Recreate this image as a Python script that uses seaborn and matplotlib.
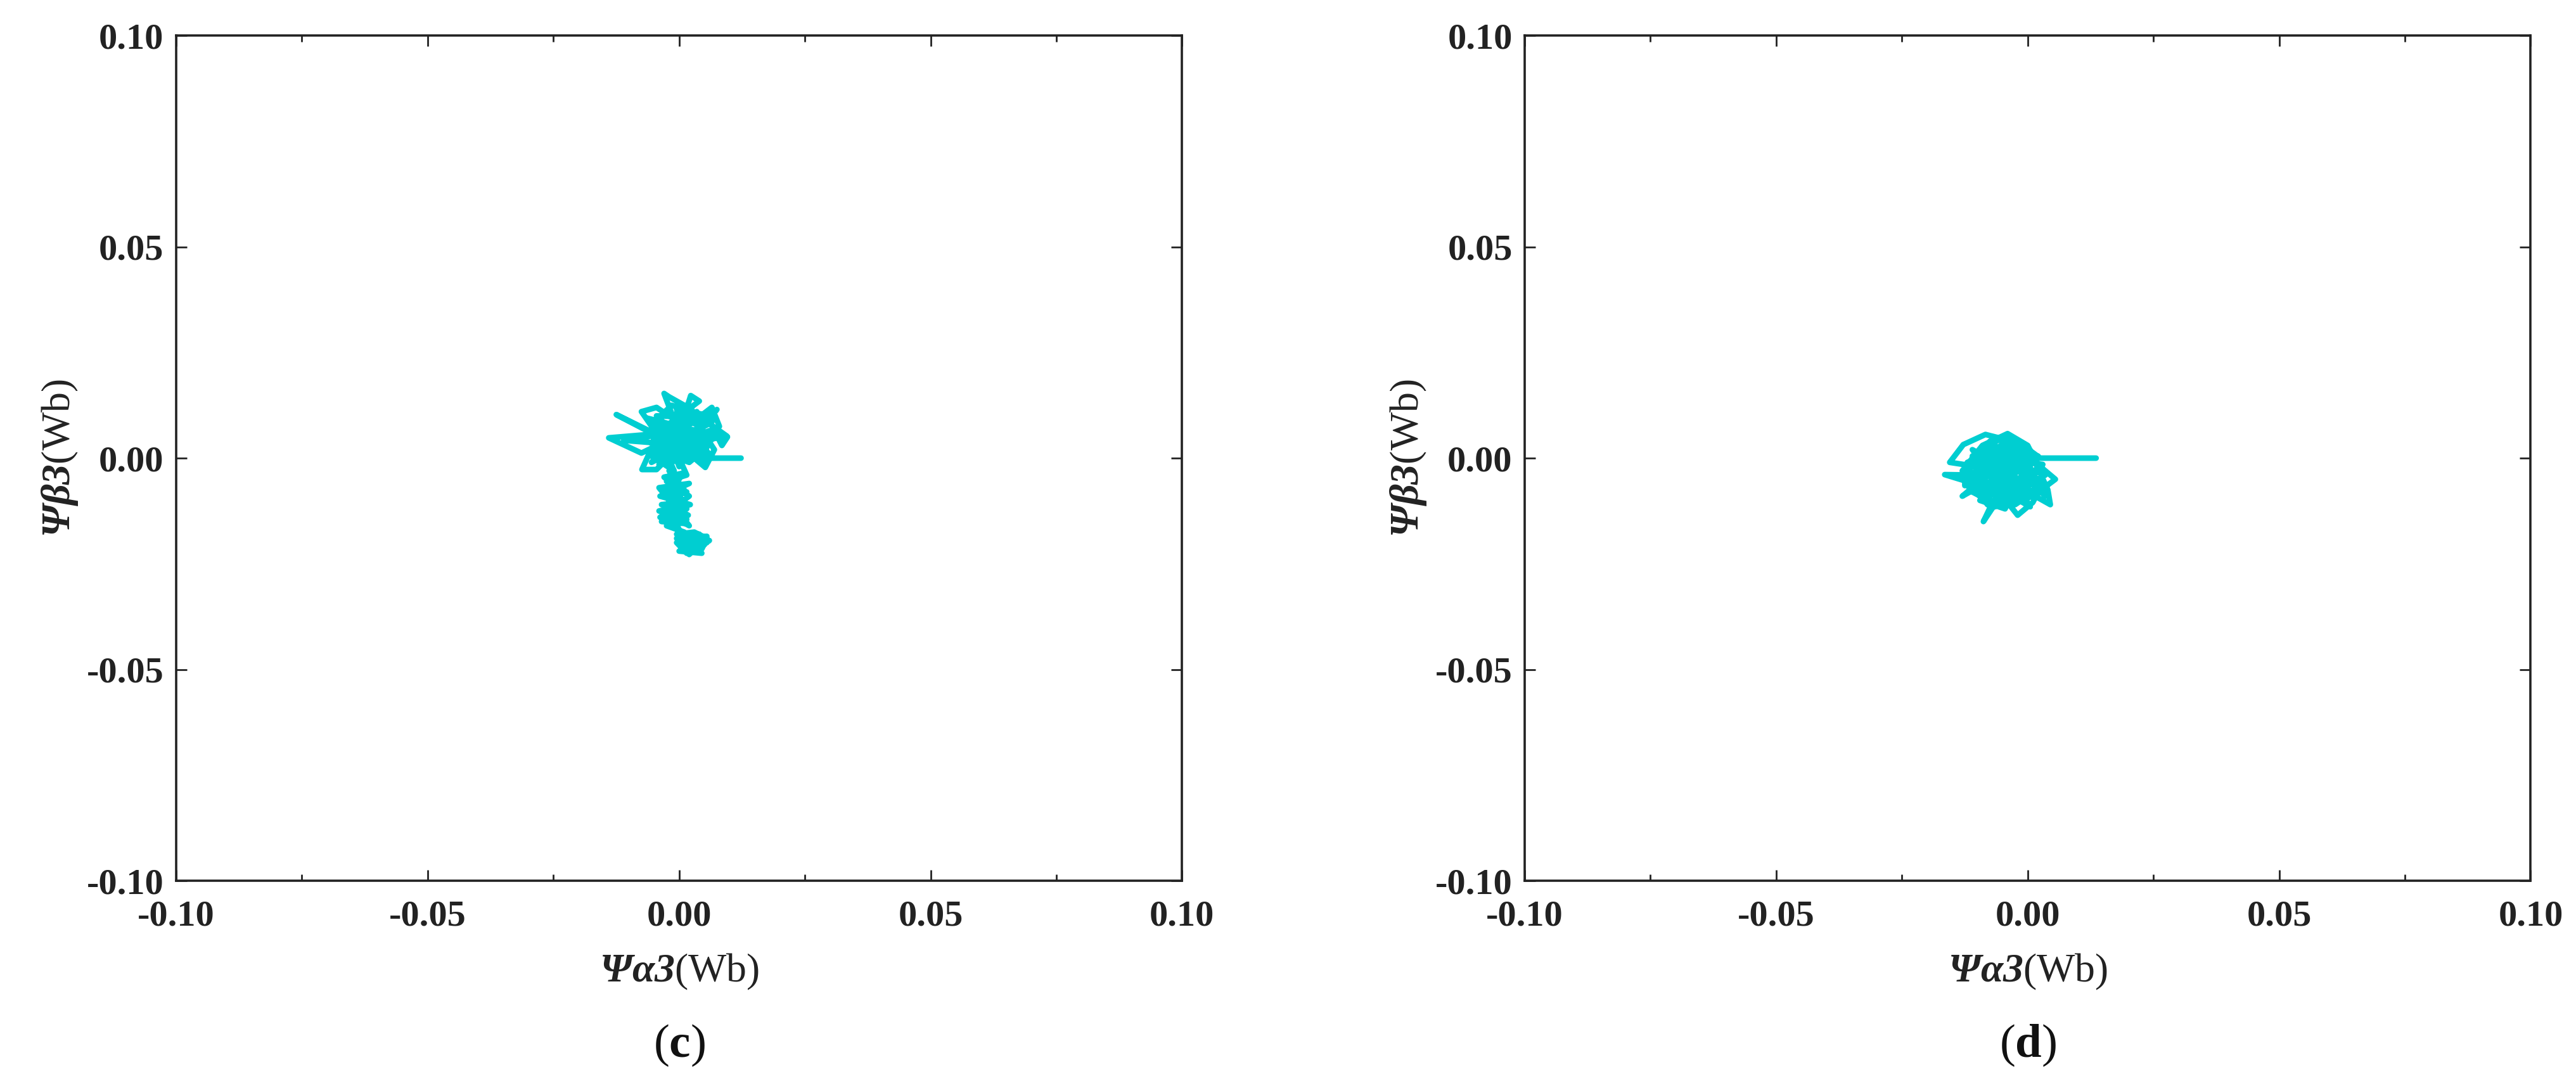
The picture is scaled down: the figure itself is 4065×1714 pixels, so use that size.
import matplotlib
matplotlib.use('Agg')
import matplotlib.pyplot as plt
import seaborn as sns
from matplotlib.ticker import MultipleLocator, FormatStrFormatter

# flux trajectory (c) (Wb)
c_psi_alpha = [0.0123, 0.0, -0.003, 0.0025, -0.002, -0.003, -0.001, 0.004, 0.0023, 0.0005,
               -0.0045, -0.0075, -0.004, -0.0125, -0.006, 0.003, 0.0075, 0.005, 0.0095, 0.004,
               -0.002, -0.014, -0.0075, -0.0035, -0.011, -0.0065, 0.001, 0.0065, 0.008, 0.002,
               -0.005, -0.0015, 0.0055, 0.0085, 0.0096, 0.006, -0.0005, -0.006, -0.0074, -0.0045,
               -0.001, 0.004, 0.007, 0.0052, 0.0035, 0.0065, 0.001, -0.0035, -0.0055, 0.0005,
               0.0055, 0.002, -0.0025, -0.001,
               -0.0055, 0.003, -0.002, 0.006, -0.004, 0.0015, 0.005, -0.0065, 0.0, 0.0075,
               -0.003, 0.0035, -0.005, 0.0045, -0.0015, 0.0065, -0.0035, 0.002, -0.006, 0.005,
               -0.0005, 0.003, -0.0045, 0.007, -0.002, 0.0015, -0.0055, 0.004, 0.0, -0.003,
               0.0015, -0.0025, 0.001, -0.003, 0.0015, -0.002, 0.0005, -0.0035, 0.0015, -0.003,
               0.0005, -0.0035, 0.0015, -0.0025, 0.001, -0.0025, 0.0, -0.002, 0.001, -0.0015,
               0.0018, -0.002, 0.0, -0.001, 0.002,
               -0.004, 0.002, -0.0038, 0.0022, -0.004, 0.0015, -0.0038, 0.002, -0.003, 0.001,
               -0.001, 0.0, -0.001, 0.0, -0.0025, 0.001,
               -0.0005, 0.003, 0.0055, 0.0045, 0.0015, -0.0005, 0.0025, 0.005, 0.003, 0.0005,
               0.001, 0.004, 0.0055, 0.0035, 0.002, 0.004, 0.0025,
               0.006, 0.0, 0.0045, -0.0005, 0.0055, 0.002, 0.003, 0.0015]
c_psi_beta = [0.0, 0.0, 0.0045, 0.0115, 0.0145, 0.0153, 0.009, 0.0135, 0.0148, 0.008,
              0.012, 0.011, 0.005, 0.0103, 0.0065, 0.0055, 0.0115, 0.009, 0.0052, 0.004,
              0.006, 0.0048, 0.0012, 0.0035, 0.0042, 0.005, 0.007, 0.012, 0.0075, 0.0025,
              0.0085, 0.0125, 0.01, 0.003, 0.005, 0.0065, 0.003, 0.001, -0.0027, -0.0027,
              0.0015, 0.0075, 0.002, -0.0022, -0.0005, 0.0045, 0.0105, 0.007, 0.0035, 0.005,
              0.0025, -0.001, 0.001, -0.003,
              0.0005, 0.0095, 0.0105, 0.001, -0.0015, 0.0125, 0.006, 0.0095, 0.004, 0.0055,
              -0.001, 0.011, 0.0045, 0.0005, 0.008, 0.0085, 0.002, 0.0055, 0.006, -0.001,
              0.0115, 0.0015, 0.01, 0.0095, 0.0025, 0.009, -0.001, 0.005, -0.002, 0.008,
              -0.004, -0.0055, -0.0065, -0.0075, -0.008, -0.0095, -0.0105, -0.011, -0.012, -0.0135,
              -0.014, -0.015, -0.0155, -0.0125, -0.01, -0.008, -0.005, -0.003, -0.0075, -0.0115,
              -0.0135, -0.0155, -0.017, -0.014, -0.016,
              -0.007, -0.006, -0.009, -0.011, -0.0125, -0.0145, -0.014, -0.009, -0.0045, -0.0035,
              -0.006, -0.009, -0.012, -0.015, -0.016, -0.0175,
              -0.018, -0.0175, -0.019, -0.0215, -0.0225, -0.02, -0.0185, -0.0205, -0.022, -0.021,
              -0.019, -0.018, -0.02, -0.021, -0.02, -0.0195, -0.0215,
              -0.0195, -0.022, -0.0225, -0.019, -0.0185, -0.0228, -0.019, -0.021]

# flux trajectory (d) (Wb)
d_psi_alpha = [0.0136, 0.0025, -0.0015, -0.0084, -0.0128, -0.0155, -0.01, -0.006, -0.001, 0.003,
               0.0055, 0.001, -0.004, -0.009, -0.0125, -0.0105, -0.005, 0.0005, 0.0035, -0.002,
               -0.008, -0.0165, -0.011, -0.007, -0.003, 0.0015, 0.004, 0.0045, 0.0, -0.006,
               -0.0088, -0.007, -0.011, -0.013, -0.009, -0.004, 0.0, 0.0025, -0.003, -0.008,
               -0.012, -0.007, -0.002, 0.003, 0.001, -0.002, -0.005, -0.01, -0.013, -0.009,
               -0.004, 0.0, -0.005, -0.01, -0.006, -0.001, 0.002, -0.003, -0.008, -0.0115,
               -0.006, -0.002, 0.001, -0.004, -0.009, -0.011, -0.008, -0.003, -0.007, -0.005,
               -0.002, -0.006, -0.0035, -0.0075, -0.0015, 0.0005, -0.0045, -0.0055,
               -0.0115, -0.0025, 0.0035, -0.0075, -0.012, 0.0005, -0.0055, 0.002, -0.0095, -0.0045,
               -0.001, -0.0085, 0.0015, -0.0065, -0.0105, -0.0035, 0.0, -0.007, -0.0125, -0.005,
               0.0025, -0.0025, -0.0095, -0.0005, -0.008, -0.004, 0.003, -0.011, -0.006, -0.0015,
               -0.003, -0.0075, 0.001, -0.01, -0.005, -0.002, 0.0005, -0.009, -0.0045, -0.0065]
d_psi_beta = [0.0, 0.0, 0.0035, 0.0056, 0.0032, -0.001, -0.002, 0.0045, 0.002, -0.0025,
              -0.005, -0.009, -0.011, -0.0095, -0.006, 0.0005, 0.005, 0.0015, -0.004, -0.008,
              -0.007, -0.0039, -0.004, 0.002, 0.004, -0.001, -0.0075, -0.011, -0.008, -0.01,
              -0.015, -0.0105, -0.008, -0.003, 0.003, 0.0058, 0.003, -0.003, -0.006, -0.004,
              -0.001, 0.001, -0.002, -0.006, -0.0105, -0.0135, -0.009, -0.007, -0.009, -0.005,
              -0.001, -0.004, -0.007, -0.002, 0.0025, -0.001, -0.0085, -0.01, -0.011, -0.005,
              -0.003, 0.001, -0.006, -0.004, -0.001, 0.002, 0.0, -0.0025, -0.006, -0.002,
              -0.005, -0.008, 0.0, -0.0035, -0.007, -0.002, 0.002, -0.005,
              -0.0075, 0.0045, -0.009, 0.004, -0.003, -0.0115, 0.0, 0.0005, -0.01, -0.012,
              -0.0035, 0.0015, -0.0045, -0.0115, -0.0045, 0.0025, -0.0065, -0.0025, -0.0065, 0.0035,
              -0.007, -0.011, 0.002, 0.0005, -0.0085, -0.0075, -0.0015, 0.0005, -0.006, -0.0095,
              -0.0045, -0.001, -0.008, -0.0055, -0.0105, 0.003, -0.003, -0.0035, -0.0055, 0.0005]

panels = [('c', c_psi_alpha, c_psi_beta), ('d', d_psi_alpha, d_psi_beta)]

LINE_COLOR = '#00CED1'

sns.set_style('ticks')
plt.rcParams['font.family'] = ['Liberation Serif', 'DejaVu Serif']
plt.rcParams['mathtext.fontset'] = 'custom'
plt.rcParams['mathtext.rm'] = 'Liberation Serif'
plt.rcParams['mathtext.bf'] = 'Liberation Serif:bold'
plt.rcParams['mathtext.bfit'] = 'Liberation Serif:italic:bold'
plt.rcParams['mathtext.it'] = 'Liberation Serif:italic'
plt.rcParams['axes.unicode_minus'] = True

fig = plt.figure(figsize=(20.325, 8.57), dpi=200)
lefts = [0.0684, 0.5919]

for left, (tag, xs, ys) in zip(lefts, panels):
    ax = fig.add_axes([left, 0.1890, 0.3905, 0.7783])
    sns.lineplot(x=xs, y=ys, sort=False, estimator=None, color=LINE_COLOR,
                 lw=3.2, ax=ax)
    ax.set_xlim(-0.1, 0.1)
    ax.set_ylim(-0.1, 0.1)
    ax.xaxis.set_major_locator(MultipleLocator(0.05))
    ax.xaxis.set_minor_locator(MultipleLocator(0.025))
    ax.yaxis.set_major_locator(MultipleLocator(0.05))
    ax.xaxis.set_major_formatter(FormatStrFormatter('%.2f'))
    ax.yaxis.set_major_formatter(FormatStrFormatter('%.2f'))
    ax.tick_params(axis='both', which='both', direction='in', top=True, right=True,
                   color='#222222', width=1.0)
    ax.tick_params(axis='both', which='major', length=6)
    ax.tick_params(axis='x', which='minor', length=3.5)
    ax.tick_params(axis='x', which='major', pad=11)
    ax.tick_params(axis='y', which='major', pad=7)
    for lab in ax.get_xticklabels() + ax.get_yticklabels():
        lab.set_fontweight('bold')
        lab.set_fontsize(21)
        lab.set_color('#222222')
    for sp in ax.spines.values():
        sp.set_linewidth(1.3)
        sp.set_color('#222222')
    ax.set_xlabel(r'$\mathbfit{\Psi\alpha 3}$(Wb)', fontsize=23, color='#222222', labelpad=11)
    ax.set_ylabel(r'$\mathbfit{\Psi\beta 3}$(Wb)', fontsize=23, color='#222222', labelpad=4)
    fig.text(left + 0.3905 / 2, 0.0373, r'($\mathbf{%s}$)' % tag, fontsize=27,
             ha='center', va='center', color='#111111')

fig.savefig('out.png', dpi=200, facecolor='white')
